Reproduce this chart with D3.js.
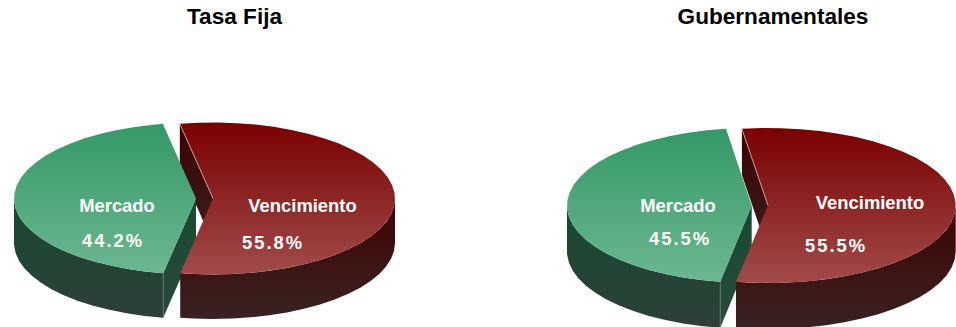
<!DOCTYPE html>
<html>
<head>
<meta charset="utf-8">
<script src="https://cdn.jsdelivr.net/npm/d3@7"></script>
<style>
  html, body { margin: 0; padding: 0; background: #fff; }
  svg { display: block; }
  text { font-family: "Liberation Sans", Arial, sans-serif; font-weight: bold; }
</style>
</head>
<body>
<svg id="chart" width="956" height="327"></svg>
<script>
// Composition of each portfolio, by accounting treatment
const chartTitles = ["Tasa Fija", "Gubernamentales"];
const categories = ["Vencimiento", "Mercado"];
const tasaFijaValues = [55.8, 44.2];
const gubernamentalesValues = [55.5, 45.5];

// Placement of the two exploded pies
const layouts = [
  {
    values: tasaFijaValues, title: chartTitles[0], titleX: 234.5,
    start: -10.5, cy: 198.5, ry: 76, depth: 44.5,
    red: { x: 213, rx: 182 }, green: { x: 196, rx: 182 },
    labels: [
      { nameX: 302.5, nameY: 211.5, valueX: 273, valueY: 248.5 },
      { nameX: 117, nameY: 211.5, valueX: 113, valueY: 247 }
    ]
  },
  {
    values: gubernamentalesValues, title: chartTitles[1], titleX: 773,
    start: -8, cy: 205.5, ry: 77.5, depth: 46,
    red: { x: 768, rx: 187.7 }, green: { x: 751.7, rx: 184.7 },
    labels: [
      { nameX: 870, nameY: 208.5, valueX: 836, valueY: 251.5 },
      { nameX: 678, nameY: 211.5, valueX: 680, valueY: 244.5 }
    ]
  }
];

const svg = d3.select("#chart");
const defs = svg.append("defs");

function gradient(id, top, bottom) {
  const g = defs.append("linearGradient").attr("id", id)
    .attr("x1", 0).attr("y1", 0).attr("x2", 0).attr("y2", 1);
  g.append("stop").attr("offset", 0).attr("stop-color", top);
  g.append("stop").attr("offset", 1).attr("stop-color", bottom);
}
gradient("redTop", "#7a0000", "#a14b4b");
gradient("greenTop", "#349966", "#6cb791");
gradient("redWall", "#3f0300", "#392222");
gradient("greenWall", "#174a32", "#2e3f37");
gradient("redInner", "#3a0200", "#3a2020");
gradient("greenInner", "#174a32", "#2a4a3a");

const deg = Math.PI / 180;
const line = d3.line();
const FACET = 6 * deg;

// Angles along a rim, walked in coarse facets
function rimAngles(a0, a1) {
  const out = d3.range(a0, a1, FACET);
  out.push(a1);
  return out;
}

layouts.forEach(cfg => {
  const arcs = d3.pie().sort(null)
    .startAngle(cfg.start * deg)
    .endAngle(cfg.start * deg + 2 * Math.PI)(cfg.values);

  const point = (slice, a, drop = 0) => [
    slice.x + slice.rx * Math.sin(a),
    cfg.cy - cfg.ry * Math.cos(a) + drop
  ];

  const topFace = (slice, arc) => line(
    [[slice.x, cfg.cy]].concat(rimAngles(arc.startAngle, arc.endAngle).map(a => point(slice, a)))
  ) + "Z";

  // Outer wall of the front half of a slice
  const outerWall = (slice, a0, a1) => {
    const rim = rimAngles(a0, a1);
    return line(
      rim.map(a => point(slice, a)).concat(rim.slice().reverse().map(a => point(slice, a, cfg.depth)))
    ) + "Z";
  };

  // Flat cut face between the apex and a rim angle
  const cutFace = (slice, a) => line([
    [slice.x, cfg.cy],
    point(slice, a),
    point(slice, a, cfg.depth),
    [slice.x, cfg.cy + cfg.depth]
  ]) + "Z";

  const redArc = arcs[0], greenArc = arcs[1];
  const g = svg.append("g");

  // Back to front: the red cut, the green body, then the red body
  g.append("path").attr("d", cutFace(cfg.red, redArc.startAngle)).attr("fill", "url(#redInner)");

  g.append("path").attr("d", outerWall(cfg.green, greenArc.startAngle, 270 * deg)).attr("fill", "url(#greenWall)");
  g.append("path").attr("d", cutFace(cfg.green, greenArc.startAngle)).attr("fill", "url(#greenInner)");
  g.append("path").attr("d", line([point(cfg.green, greenArc.startAngle), point(cfg.green, greenArc.startAngle, cfg.depth)]))
    .attr("stroke", "#5f7f70").attr("stroke-width", 0.8).attr("fill", "none");
  g.append("path").attr("d", topFace(cfg.green, greenArc)).attr("fill", "url(#greenTop)");

  g.append("path").attr("d", outerWall(cfg.red, 90 * deg, redArc.endAngle)).attr("fill", "url(#redWall)");
  g.append("path").attr("d", topFace(cfg.red, redArc)).attr("fill", "url(#redTop)");
  g.append("path").attr("d", line([point(cfg.red, redArc.startAngle), [cfg.red.x, cfg.cy]]))
    .attr("stroke", "#d9b0b0").attr("stroke-width", 0.8).attr("fill", "none");

  svg.append("text")
    .attr("x", cfg.titleX).attr("y", 24)
    .attr("text-anchor", "middle").attr("font-size", 22.6).attr("fill", "#000")
    .text(cfg.title);

  cfg.values.forEach((v, i) => {
    const lab = cfg.labels[i];
    svg.append("text")
      .attr("x", lab.nameX).attr("y", lab.nameY)
      .attr("text-anchor", "middle").attr("font-size", 18.4)
      .attr("fill", "#fff").text(categories[i]);
    svg.append("text")
      .attr("x", lab.valueX).attr("y", lab.valueY)
      .attr("text-anchor", "middle").attr("font-size", 18.4).attr("letter-spacing", 2)
      .attr("fill", "#fff").text(d3.format(".1f")(v) + "%");
  });
});
</script>
</body>
</html>
